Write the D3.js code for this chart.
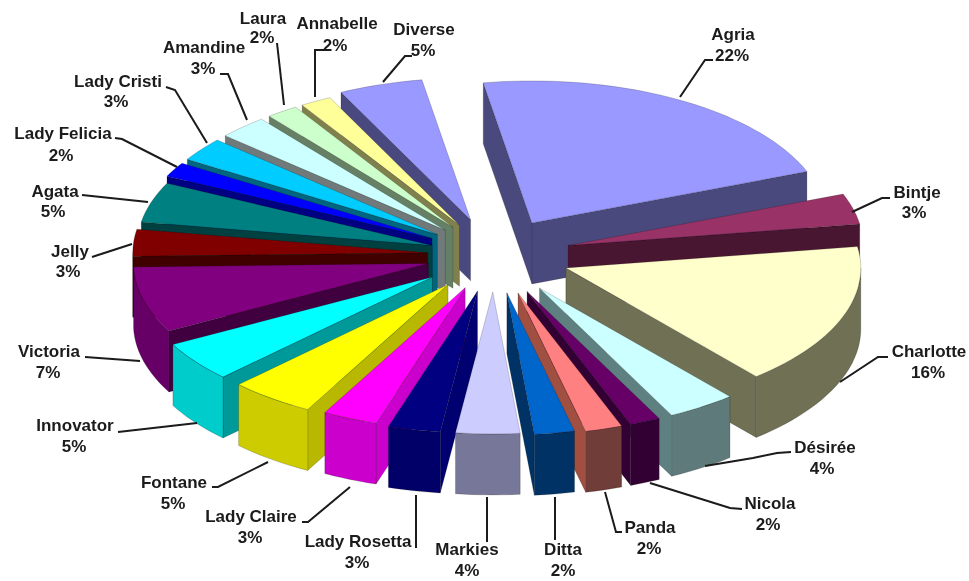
<!DOCTYPE html>
<html><head><meta charset="utf-8">
<style>html,body{margin:0;padding:0;background:#fff}svg{display:block}</style>
<script src="https://cdn.jsdelivr.net/npm/d3@7/dist/d3.min.js"></script>
</head><body><svg id="c" width="969" height="581"></svg>
<script>
// ---- data ----
const categories = ["Agria","Bintje","Charlotte","Désirée","Nicola","Panda","Ditta","Markies","Lady Rosetta","Lady Claire","Fontane","Innovator","Victoria","Jelly","Agata","Lady Felicia","Lady Cristi","Amandine","Laura","Annabelle","Diverse"];
const shares = [21.75,3.49,16.24,3.78,1.68,2.03,2.2,3.5,2.87,3.01,4.67,4.55,7.49,3.05,4.58,1.67,2.7,2.7,1.75,1.72,4.6];
const topColors = ["#9999ff","#993366","#ffffcc","#ccffff","#660066","#ff8080","#0066cc","#ccccff","#000080","#ff00ff","#ffff00","#00ffff","#800080","#800000","#008080","#0000ff","#00ccff","#ccffff","#ccffcc","#ffff99","#9999ff"];
const outerColors = ["#4d4d80","#4d1933","#6f6f55","#5f7a7a","#330033","#703c38","#003366","#77779a","#000068","#cc00cc","#cccc00","#00cccc","#660066","#400000","#004040","#000080","#006680","#668080","#668066","#80804d","#4d4d80"];
const radialColors = ["#4a4a7e","#4a1530","#6f6f55","#5f8080","#330033","#a05040","#003366","#8a8aa8","#000070","#cc00cc","#b8b800","#009999","#400040","#400000","#004040","#000080","#006680","#707a7a","#668066","#80804d","#4a4a80"];
const explode = [.26,.26,.26,.28,.28,.28,.27,.26,.26,.25,.26,.26,.23,.225,.22,.24,.24,.24,.24,.24,.26];
// ---- layout ----
const labelXY = [[733,34],[917,192],[929,351],[825,447],[770,503],[650,527],[563,549],[467,549],[358,541],[251,516],[174,482],[75,425],[49,351],[70,251],[55,191],[63,133],[118,81],[204,47],[263,18],[337,23],[424,29]];
const percentXY = [[732,55],[914,212],[928,372],[822,468],[768,524],[649,548],[563,570],[467,570],[357,562],[250,537],[173,503],[74,446],[48,372],[68,271],[53,211],[61,155],[116,101],[203,68],[262,37],[335,45],[423,50]];
const leaders = [
 [[680,97],[705,60],[713,60]],[[852,212],[882,198],[890,198]],[[840,382],[878,357],[888,357]],
 [[705,466],[753,458],[777,453],[791,452]],[[650,483],[730,508],[742,509]],[[605,492],[616,532],[622,532]],
 [[555,497],[555,540]],[[487,497],[487,542]],[[416,495],[416,548]],
 [[350,487],[308,522],[302,522]],[[268,462],[218,487],[212,487]],[[197,423],[118,432]],
 [[140,361],[85,357]],[[132,244],[92,257]],[[148,202],[82,195]],
 [[177,167],[122,139],[115,138]],[[207,143],[175,90],[166,87]],[[247,120],[228,74],[220,74]],
 [[284,105],[277,43]],[[315,97],[315,50],[325,50]],[[383,82],[405,56],[412,56]]];
const cx=494, cy=255, R=295, Ry=142, H=61, startDeg=-9.5;

const svg=d3.select("#c");
const defs=svg.append("defs");
defs.append("filter").attr("id","soft").append("feGaussianBlur").attr("stdDeviation",0.45);
const root=svg.append("g").attr("filter","url(#soft)");

const pie=d3.pie().sort(null).value(d=>d)
  .startAngle(startDeg*Math.PI/180).endAngle((startDeg+360)*Math.PI/180);
const arcs=pie(shares);
const sx=d3.scaleLinear().domain([-1,1]).range([-R,R]);
const sy=d3.scaleLinear().domain([-1,1]).range([-Ry,Ry]);
const pt=(ax,ay,a,r,z)=>[ax+sx(r*Math.sin(a)), ay-sy(r*Math.cos(a))+z];
const line=d3.line();

const slices=arcs.map((d,i)=>{
  const mid=(d.startAngle+d.endAngle)/2, e=explode[i];
  return {i,d,mid,ax:cx+sx(e*Math.sin(mid)),ay:cy-sy(e*Math.cos(mid))};
});
// painter's order: far slices first
slices.sort((p,q)=>(p.ay-Ry*Math.cos(p.mid)*.5)-(q.ay-Ry*Math.cos(q.mid)*.5));

function arcPts(s,a0,a1,z){
  const n=Math.max(2,Math.ceil((a1-a0)/(Math.PI/90)));
  return d3.range(n+1).map(k=>pt(s.ax,s.ay,a0+(a1-a0)*k/n,1,z));
}
function face(g,pts,fill){
  g.append("path").attr("d",line(pts)+"Z").attr("fill",fill)
   .attr("stroke","rgba(0,0,0,.3)").attr("stroke-width",.6).attr("stroke-linejoin","round");
}
slices.forEach(s=>{
  const g=root.append("g"), {i,d}=s;
  const a0=d.startAngle,a1=d.endAngle;
  const apexTop=[s.ax,s.ay], apexBot=[s.ax,s.ay+H];
  const wall=(a)=>{const t=pt(s.ax,s.ay,a,1,0),b=pt(s.ax,s.ay,a,1,H);
    face(g,[apexTop,t,b,apexBot],radialColors[i]);};
  // a radial wall is drawn only when it faces the viewer
  if(Math.sin(a0)<0) wall(a0);
  if(Math.sin(a1)>0) wall(a1);
  // outer wall for the part that faces the viewer
  const lo=Math.max(a0,Math.PI/2), hi=Math.min(a1,Math.PI*1.5);
  if(hi>lo){
    const t=arcPts(s,lo,hi,0), b=arcPts(s,lo,hi,H).reverse();
    face(g,t.concat(b),outerColors[i]);
  }
  face(g,[apexTop].concat(arcPts(s,a0,a1,0)),topColors[i]);
});

// labels
const lab=root.append("g");
leaders.forEach(pts=>lab.append("path").attr("d",line(pts)).attr("fill","none").attr("stroke","#1a1a1a").attr("stroke-width",2));
categories.forEach((c,i)=>{
  const t=lab.append("text").attr("text-anchor","middle").attr("font-family","'Liberation Sans',Arial,sans-serif")
   .attr("font-weight","bold").attr("font-size",17).attr("fill","#1a1a1a");
  t.append("tspan").attr("x",labelXY[i][0]).attr("y",labelXY[i][1]+6).text(c);
  t.append("tspan").attr("x",percentXY[i][0]).attr("y",percentXY[i][1]+6).text(Math.round(shares[i])+"%");
});
</script></body></html>
